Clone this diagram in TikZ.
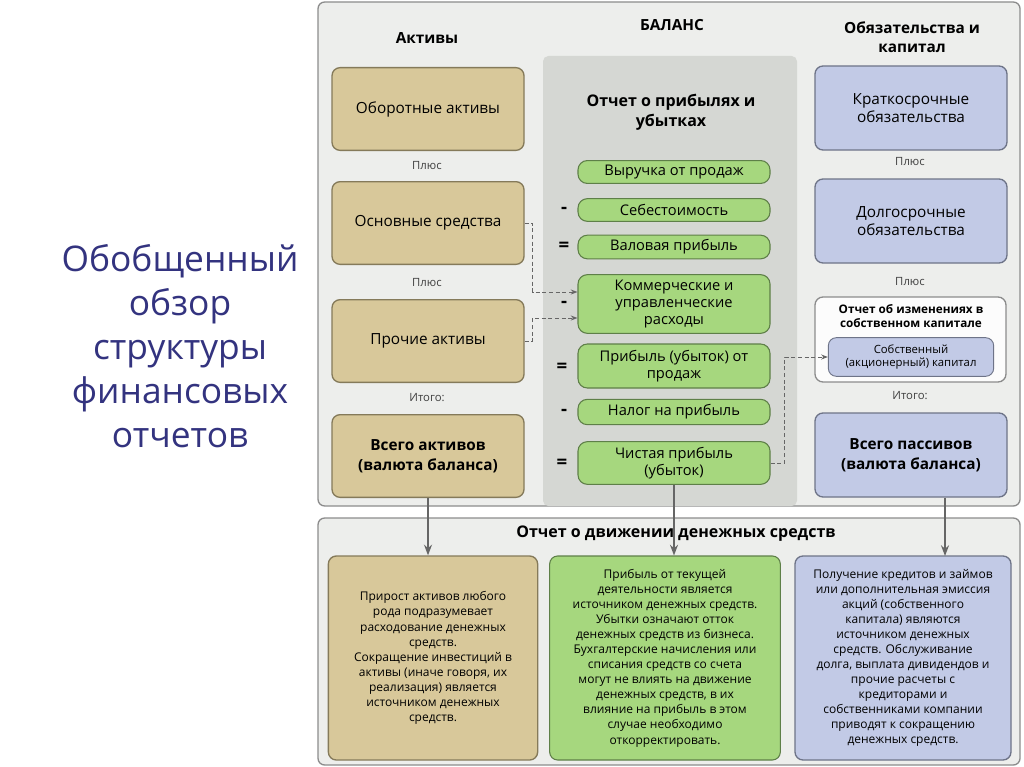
\documentclass[tikz,border=0pt]{standalone}
\usepackage{fontspec}
\setmainfont{Open Sans}
\usetikzlibrary{arrows.meta}
\definecolor{tanf}{HTML}{D8C89A}
\definecolor{tand}{HTML}{857A5A}
\definecolor{bluef}{HTML}{C2CAE6}
\definecolor{blued}{HTML}{6E7488}
\definecolor{greenf}{HTML}{A6D77E}
\definecolor{greend}{HTML}{5E7F48}
\definecolor{panel}{HTML}{EDEEEC}
\definecolor{midcol}{HTML}{D5D7D3}
\definecolor{titlec}{HTML}{33337F}
\tikzset{
 tanbox/.style={draw=tand,fill=tanf,rounded corners=6pt,line width=1pt,align=center,font=\fontsize{11.5}{14}\selectfont},
 bluebox/.style={draw=blued,fill=bluef,rounded corners=6pt,line width=1pt,align=center,font=\fontsize{11.5}{14}\selectfont},
 pill/.style={draw=greend,fill=greenf,rounded corners=7pt,line width=0.8pt,align=center,font=\fontsize{11}{12.5}\selectfont},
 lbl/.style={font=\fontsize{8.5}{10}\selectfont,text=black!75},
 op/.style={font=\bfseries\fontsize{14}{14}\selectfont},
 hd/.style={font=\bfseries\fontsize{11.5}{14}\selectfont,align=center},
 txt/.style={align=center,font=\fontsize{9}{11.3}\selectfont},
 dsh/.style={densely dashed,draw=black!60,line width=0.7pt,-{Stealth[length=5pt]}},
 arr/.style={draw=black!60,line width=1.3pt,-{Stealth[length=8pt]}}
}
\begin{document}
\begin{tikzpicture}[x=0.75pt,y=-0.75pt]
\useasboundingbox (0,0) rectangle (1024,767);
\fill[white] (0,0) rectangle (1024,767);
% panels
\draw[black!45,fill=panel,rounded corners=5pt,line width=1pt] (318,2) rectangle (1020,506);
\fill[midcol,rounded corners=4pt] (543,56) rectangle (797,506);
\draw[black!45,fill=panel,rounded corners=5pt,line width=1pt] (318,518) rectangle (1020,765);
% headers
\node[hd] (hA) at (427,38) {Активы};
\node[hd] (hB) at (672,25) {БАЛАНС};
\node[hd] (hO) at (912,37) {Обязательства и\\капитал};
\node[hd,font=\bfseries\fontsize{12}{15}\selectfont] (hP) at (671,112) {Отчет о прибылях и\\убытках};
\node[font=\fontsize{26.5}{33}\selectfont,text=titlec,align=center] (title) at (180,346) {Обобщенный\\обзор\\структуры\\финансовых\\отчетов};
% left
\node[tanbox,minimum width=144pt,minimum height=62pt] (a1) at (428,109) {Оборотные активы};
\node[tanbox,minimum width=144pt,minimum height=62pt] (a2) at (428,223) {Основные средства};
\node[tanbox,minimum width=144pt,minimum height=62pt] (a3) at (428,341) {Прочие активы};
\node[tanbox,minimum width=144pt,minimum height=62pt,font=\bfseries\fontsize{11.5}{15}\selectfont] (a4) at (428,456) {Всего активов\\(валюта баланса)};
\node[lbl] (l1) at (427,166) {Плюс};
\node[lbl] (l2) at (427,283) {Плюс};
\node[lbl] (l3) at (427,398) {Итого:};
% right
\node[bluebox,minimum width=144pt,minimum height=63pt] (r1) at (911,108) {Краткосрочные\\обязательства};
\node[bluebox,minimum width=144pt,minimum height=63pt] (r2) at (911,221) {Долгосрочные\\обязательства};
\node[bluebox,minimum width=144pt,minimum height=63pt,font=\bfseries\fontsize{11.5}{15}\selectfont] (r4) at (911,455) {Всего пассивов\\(валюта баланса)};
\node[lbl] (rl1) at (910,162) {Плюс};
\node[lbl] (rl2) at (910,282) {Плюс};
\node[lbl] (rl3) at (910,396) {Итого:};
\draw[black!45,fill=white!85!panel,rounded corners=6pt,line width=1pt] (815,297) rectangle (1006,382);
\node[font=\bfseries\fontsize{8.8}{11}\selectfont,align=center] (eqt) at (911,316) {Отчет об изменениях в\\собственном капитале};
\node[bluebox,minimum width=124pt,minimum height=29pt,font=\fontsize{8.5}{10}\selectfont,line width=0.7pt] (eq) at (911,357) {Собственный\\(акционерный) капитал};
% pills
\node[pill,minimum width=144pt,minimum height=17pt] (p1) at (674,172) {Выручка от продаж};
\node[pill,minimum width=144pt,minimum height=17pt] (p2) at (674,210) {Себестоимость};
\node[pill,minimum width=144pt,minimum height=17pt] (p3) at (674,247) {Валовая прибыль};
\node[pill,minimum width=144pt,minimum height=44pt] (p4) at (674,304) {Коммерческие и\\управленческие\\расходы};
\node[pill,minimum width=144pt,minimum height=33pt] (p5) at (674,366) {Прибыль (убыток) от\\продаж};
\node[pill,minimum width=144pt,minimum height=19pt] (p6) at (674,412) {Налог на прибыль};
\node[pill,minimum width=144pt,minimum height=32pt] (p7) at (674,463) {Чистая прибыль\\(убыток)};
\node[op] (o2) at (564,210) {-};
\node[op] (o3) at (564,247) {=};
\node[op] (o4) at (564,304) {-};
\node[op] (o5) at (562,368) {=};
\node[op] (o6) at (564,412) {-};
\node[op] (o7) at (562,464) {=};
% dashed
\draw[dsh] (a2.east) -- ++(8,0) |- (p4.west |- 0,292);
\draw[dsh] (a3.east) -- ++(8,0) |- (p4.west |- 0,318);
\draw[dsh] (p7.east) -- ++(14,0) |- (eq.west);
% bottom
\node[font=\bfseries\fontsize{12}{14}\selectfont] (cf) at (676,534) {Отчет о движении денежных средств};
\node[tanbox,minimum width=157pt,minimum height=153pt,txt] (b1) at (433,658) {Прирост активов любого\\рода подразумевает\\расходование денежных\\средств.\\Сокращение инвестиций в\\активы (иначе говоря, их\\реализация) является\\источником денежных\\средств.};
\node[pill,rounded corners=6pt,minimum width=173pt,minimum height=153pt,txt] (b2) at (665,658) {Прибыль от текущей\\деятельности является\\источником денежных средств.\\Убытки означают отток\\денежных средств из бизнеса.\\Бухгалтерские начисления или\\списания средств со счета\\могут не влиять на движение\\денежных средств, в их\\влияние на прибыль в этом\\случае необходимо\\откорректировать.};
\node[bluebox,minimum width=162pt,minimum height=153pt,txt] (b3) at (903,658) {Получение кредитов и займов\\или дополнительная эмиссия\\акций (собственного\\капитала) являются\\источником денежных\\средств. Обслуживание\\долга, выплата дивидендов и\\прочие расчеты с\\кредиторами и\\собственниками компании\\приводят к сокращению\\денежных средств.};
\draw[arr] (a4.south) -- (a4.south |- b1.north);
\draw[arr] (p7.south) -- (p7.south |- b2.north);
\draw[arr] (r4.south -| 945,0) -- (945,556);
\end{tikzpicture}
\end{document}
